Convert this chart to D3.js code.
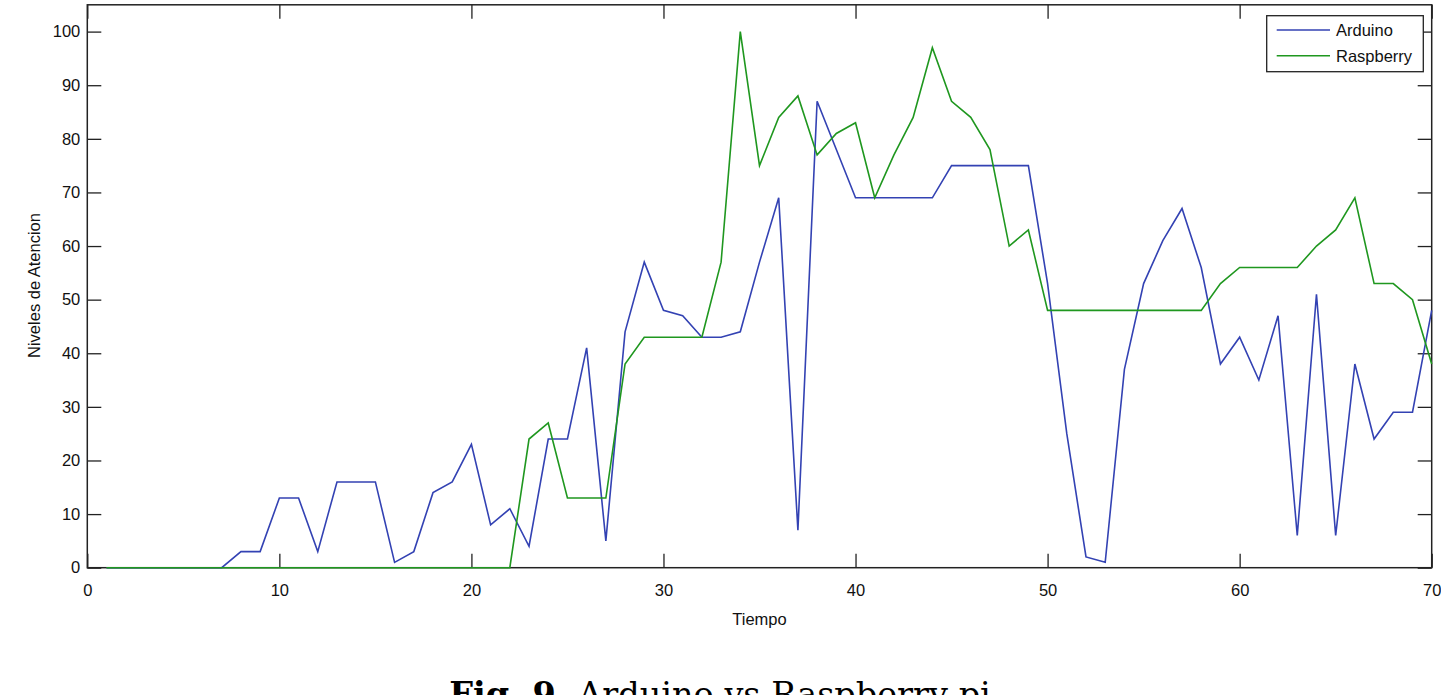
<!DOCTYPE html>
<html>
<head>
<meta charset="utf-8">
<script src="https://cdn.jsdelivr.net/npm/d3@7"></script>
<style>
  body { margin: 0; background: #fff; }
  svg { display: block; font-family: "Liberation Sans", Arial, sans-serif; }
</style>
</head>
<body>
<svg></svg>
<script>
// x values (tiempo)
let tiempo = [
  1, 2, 3, 4, 5, 6, 7, 8, 9, 10, 11, 12, 13, 14, 15, 16, 17, 18, 19, 20,
  21, 22, 23, 24, 25, 26, 27, 28, 29, 30, 31, 32, 33, 34, 35, 36, 37, 38, 39, 40,
  41, 42, 43, 44, 45, 46, 47, 48, 49, 50, 51, 52, 53, 54, 55, 56, 57, 58, 59, 60,
  61, 62, 63, 64, 65, 66, 67, 68, 69, 70
];

let arduino = [
  0, 0, 0, 0, 0, 0, 0, 3, 3, 13, 13, 3, 16, 16, 16, 1, 3, 14, 16, 23,
  8, 11, 4, 24, 24, 41, 5, 44, 57, 48, 47, 43, 43, 44, 57, 69, 7, 87, 78, 69,
  69, 69, 69, 69, 75, 75, 75, 75, 75, 53, 25, 2, 1, 37, 53, 61, 67, 56, 38, 43,
  35, 47, 6, 51, 6, 38, 24, 29, 29, 48
];

let raspberry = [
  0, 0, 0, 0, 0, 0, 0, 0, 0, 0, 0, 0, 0, 0, 0, 0, 0, 0, 0, 0,
  0, 0, 24, 27, 13, 13, 13, 38, 43, 43, 43, 43, 57, 100, 75, 84, 88, 77, 81, 83,
  69, 77, 84, 97, 87, 84, 78, 60, 63, 48, 48, 48, 48, 48, 48, 48, 48, 48, 53, 56,
  56, 56, 56, 60, 63, 69, 53, 53, 50, 38
];

let seriesNames = ["Arduino", "Raspberry"];
let xTicks = [0, 10, 20, 30, 40, 50, 60, 70];
let yTicks = [0, 10, 20, 30, 40, 50, 60, 70, 80, 90, 100];

let width = 1441;
let height = 695;
let plotLeft = 87.3;
let plotRight = 1431.7;
let plotTop = 4.8;
let plotBottom = 567.7;
let tickLen = 14;

let colors = { Arduino: "#3342b3", Raspberry: "#1f971f" };

let svg = d3.select("svg").attr("width", width).attr("height", height);

let xScale = d3.scaleLinear().domain([0, 70]).range([plotLeft, plotRight]);
let yScale = d3.scaleLinear().domain([0, 105]).range([plotBottom, plotTop]);

let drawAxes = () => {
  // bottom axis, ticks pointing into the plot
  let xAxis = d3.axisBottom(xScale).tickValues(xTicks).tickSize(-tickLen).tickPadding(17);
  svg.append("g")
    .attr("transform", "translate(0," + plotBottom + ")")
    .call(xAxis);

  // top ticks, no labels
  svg.append("g")
    .attr("transform", "translate(0," + plotTop + ")")
    .call(d3.axisTop(xScale).tickValues(xTicks).tickSize(-tickLen).tickFormat(""));

  let yAxis = d3.axisLeft(yScale).tickValues(yTicks).tickSize(-tickLen).tickPadding(7);
  svg.append("g")
    .attr("transform", "translate(" + plotLeft + ",0)")
    .call(yAxis);

  svg.append("g")
    .attr("transform", "translate(" + plotRight + ",0)")
    .call(d3.axisRight(yScale).tickValues(yTicks).tickSize(-tickLen).tickFormat(""));

  svg.selectAll(".domain").remove();
  svg.selectAll(".tick line").attr("stroke", "#222").attr("stroke-width", 1.3);
  svg.selectAll(".tick text")
    .attr("fill", "#111")
    .style("font-size", "16.5px")
    .style("font-family", "'Liberation Sans', Arial, sans-serif");

  // box around the plot
  svg.append("rect")
    .attr("x", plotLeft)
    .attr("y", plotTop)
    .attr("width", plotRight - plotLeft)
    .attr("height", plotBottom - plotTop)
    .attr("fill", "none")
    .attr("stroke", "#222")
    .attr("stroke-width", 1.5);

  svg.append("text")
    .attr("x", (plotLeft + plotRight) / 2)
    .attr("y", 625)
    .attr("text-anchor", "middle")
    .attr("fill", "#111")
    .style("font-size", "16.5px")
    .text("Tiempo");

  svg.append("text")
    .attr("transform", "translate(40," + 285.5 + ") rotate(-90)")
    .attr("text-anchor", "middle")
    .attr("fill", "#111")
    .style("font-size", "16.5px")
    .text("Niveles de Atencion");
};

let drawLines = () => {
  let line = d3.line()
    .x((d) => xScale(d[0]))
    .y((d) => yScale(d[1]));

  let data = {
    Arduino: tiempo.map((t, i) => [t, arduino[i]]),
    Raspberry: tiempo.map((t, i) => [t, raspberry[i]])
  };

  seriesNames.forEach((name) => {
    svg.append("path")
      .datum(data[name])
      .attr("d", line)
      .attr("fill", "none")
      .attr("stroke", colors[name])
      .attr("stroke-width", 1.6)
      .attr("stroke-linejoin", "miter");
  });
};

let drawLegend = () => {
  let g = svg.append("g");
  g.append("rect")
    .attr("x", 1266.7)
    .attr("y", 15.7)
    .attr("width", 156.6)
    .attr("height", 56)
    .attr("fill", "#fff")
    .attr("stroke", "#222")
    .attr("stroke-width", 1.3);

  seriesNames.forEach((name, i) => {
    let y = 30 + i * 25.7;
    g.append("line")
      .attr("x1", 1276.7)
      .attr("x2", 1330)
      .attr("y1", y)
      .attr("y2", y)
      .attr("stroke", colors[name])
      .attr("stroke-width", 1.6);
    g.append("text")
      .attr("x", 1336)
      .attr("y", y + 6)
      .attr("fill", "#111")
      .style("font-size", "16.5px")
      .text(name);
  });
};

// caption sits partly below the bottom edge, as in the source image
let drawCaption = () => {
  let cap = svg.append("text")
    .attr("x", 720)
    .attr("y", 706)
    .attr("text-anchor", "middle")
    .attr("fill", "#000")
    .style("font-family", "'DejaVu Serif', 'Liberation Serif', serif")
    .style("font-size", "33.5px");
  cap.append("tspan").attr("font-weight", "bold").text("Fig. 9.");
  cap.append("tspan").text(" Arduino vs Raspberry pi");
};

drawAxes();
drawLines();
drawLegend();
drawCaption();
</script>
</body>
</html>
